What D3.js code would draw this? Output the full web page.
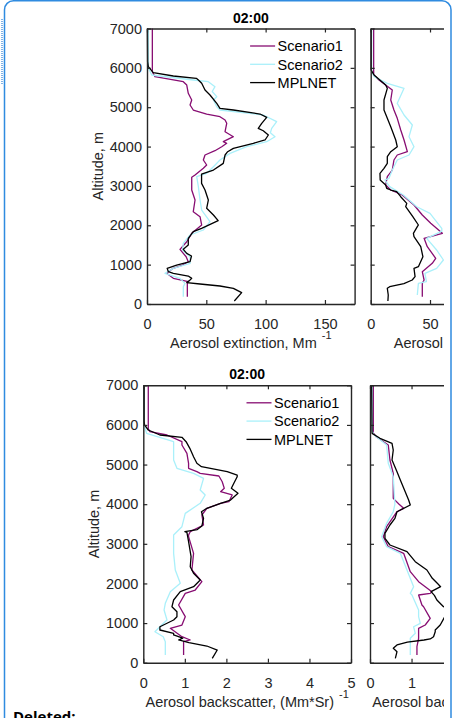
<!DOCTYPE html>
<html>
<head>
<meta charset="utf-8">
<script src="https://cdn.jsdelivr.net/npm/d3@7"></script>
<style>
body { margin: 0; background: #fff; }
svg { display: block; font-family: "Liberation Sans", Arial, sans-serif; }
</style>
</head>
<body>
<svg width="454" height="718"></svg>
<script>
// profiles as [altitude m, value]
// extinction, Mm^-1 (left panel)
const extS1_L = [[185,34],[525,34],[567,34.8],[652,22.2],[780,16.6],[906,22],[990,30],[1075,34.8],[1200,33],[1389,27.8],[1583,33.5],[1796,37.7],[2007,46.1],[2218,44.7],[2345,39],[2642,40.5],[2896,37.7],[3219,37.7],[3277,40.5],[3448,47.5],[3532,50.3],[3659,47.5],[3786,48.9],[3895,57.3],[3997,63],[4083,67.2],[4124,64.3],[4251,72.8],[4378,65.8],[4591,67.2],[4675,65.8],[4759,61.5],[4827,50.3],[4929,39],[5056,36.3],[5183,37.7],[5353,34.8],[5564,33.5],[5648,30.6],[5775,6.7],[5902,4.5],[7000,4.5]];
const extS2_L = [[185,30.6],[440,30.6],[525,32],[652,27.8],[780,15.2],[906,22.2],[1034,36.3],[1202,36.3],[1372,30],[1542,30.6],[1753,36.3],[1880,47.5],[2091,53.1],[2388,46.1],[2642,44.7],[2981,43.3],[3234,41.9],[3320,50.3],[3489,56],[3659,61.5],[3827,70],[3997,84],[4124,100.9],[4251,107.9],[4350,104],[4464,105.1],[4632,109.3],[4802,98],[4929,61.5],[5013,58.8],[5183,56],[5268,58.8],[5400,55],[5522,57.3],[5648,51.7],[5691,39],[5818,4],[6000,1.1],[7000,1.1]];
const extM_L = [[76,73.6],[288,79.8],[398,72.8],[457,61.5],[508,44.7],[545,33.5],[600,36],[652,37.7],[711,34.8],[780,22.2],[820,18],[906,17],[990,25],[1075,36.3],[1220,37.5],[1287,33.5],[1389,30.6],[1499,34.8],[1668,34.8],[1837,39],[1923,46],[2117,60],[2261,56],[2431,50.3],[2642,51.7],[2896,48.9],[3066,46],[3302,46],[3404,56],[3574,64.3],[3786,65.8],[3870,68],[3955,72.8],[4083,89.6],[4167,99.5],[4294,102.3],[4403,98],[4464,93.8],[4591,96.7],[4743,100.9],[4827,95.3],[4929,72.8],[4972,61.5],[5099,58.8],[5310,53.1],[5437,48.9],[5607,46.1],[5691,43.3],[5733,41.6],[5793,22.2],[5877,5.3],[6030,1.1],[6157,0.5],[7000,0.3]];
// extinction (right panel)
const extS1_R = [[185,43.5],[525,43.5],[610,45],[821,43.5],[1034,51.9],[1161,54.8],[1456,47.7],[1668,45],[1796,60.4],[2050,50.6],[2261,43.5],[2515,36.5],[2769,26.6],[2896,16.9],[3023,12.6],[3234,14],[3404,18.2],[3659,19.6],[3786,22.4],[3870,30.9],[4167,28.1],[4421,25.3],[4718,22.4],[4929,19.6],[5183,16.9],[5437,18.2],[5691,7],[5775,4.2],[5818,2.5],[7000,2.5]];
const extS2_R = [[229,39.3],[525,40.2],[567,47],[780,45.7],[906,55.6],[1118,61.3],[1372,55.6],[1668,47.2],[1850,60],[1923,59.9],[2303,50],[2472,38.8],[2769,27.5],[2981,16],[3150,12],[3193,15.4],[3404,18.2],[3659,22.4],[3786,32.3],[3997,36.5],[4251,32.3],[4548,35.1],[4802,28.1],[5099,22.4],[5480,28.1],[5607,14],[5775,3],[5900,0.8],[7000,0.8]];
const extM_R = [[76,14.5],[229,14.8],[398,14],[440,16],[520,28],[610,35],[694,37.4],[906,36.5],[948,40.2],[1202,44],[1456,42.2],[1710,36.5],[1796,36],[1964,39.3],[2007,40.2],[2218,35.5],[2472,29.5],[2558,30.4],[2726,25.3],[2854,21.9],[2896,16.9],[2939,13.5],[3023,12.6],[3150,8],[3320,7.8],[3448,11.2],[3574,14],[3743,14],[3870,16.9],[3997,22.4],[4167,21.1],[4505,16.9],[4929,11.2],[5183,11.2],[5480,14],[5564,12.6],[5818,2.8],[5950,0.3],[7000,0.3]];
// backscatter, (Mm*Sr)^-1 (left panel)
const bscS1_L = [[194,0.97],[530,0.97],[573,1.13],[656,0.93],[867,0.65],[951,0.93],[1161,1.01],[1455,0.85],[1750,1.01],[1834,1.25],[2044,1.41],[2339,1.17],[2760,1.21],[3180,1.09],[3222,1.09],[3306,1.13],[3475,1.45],[3727,1.41],[3896,1.53],[4022,1.86],[4063,2.06],[4232,2.14],[4315,1.86],[4400,1.95],[4567,1.9],[4711,1.82],[4779,1.37],[4820,1.29],[4905,1.09],[5031,1.09],[5284,1.05],[5493,0.93],[5577,0.93],[5746,0.57],[5830,0.16],[5900,0.12],[7000,0.12]];
const bscS2_L = [[194,0.53],[530,0.53],[656,0.48],[782,0.28],[908,0.4],[1077,0.57],[1330,0.5],[1499,0.53],[1792,0.65],[2003,0.89],[2339,0.77],[2760,0.73],[3222,0.73],[3432,0.93],[3769,1.01],[4022,1.37],[4232,1.49],[4358,1.37],[4653,1.45],[4779,1.21],[4905,0.81],[5115,0.73],[5577,0.73],[5788,0.08],[6000,0.02],[7000,0.02]];
const bscM_L = [[111,1.66],[320,1.78],[421,1.53],[505,1.1],[573,0.85],[620,0.95],[700,0.73],[742,0.73],[825,0.4],[908,0.4],[1077,0.73],[1161,0.81],[1287,0.81],[1413,0.69],[1582,0.73],[1792,0.89],[1918,1.21],[2044,1.33],[2087,1.37],[2256,1.21],[2422,1.13],[2676,1.15],[3053,1.09],[3290,1.05],[3310,1.0],[3360,1.3],[3449,1.41],[3643,1.45],[3810,1.4],[3896,1.53],[4022,1.86],[4105,2.1],[4274,2.28],[4401,2.12],[4527,2.18],[4693,2.26],[4736,2.26],[4820,2.02],[4946,1.4],[5031,1.29],[5198,1.21],[5410,1.12],[5577,1.03],[5688,0.93],[5746,0.4],[5872,0.12],[5999,0.03],[6100,0.02],[7000,0.02]];
// backscatter (right panel)
const bscS1_R = [[194,1.13],[404,1.13],[615,1.17],[867,1.17],[951,1.33],[1120,1.45],[1413,1.29],[1456,1.25],[1708,1.17],[1750,1.45],[1792,1.49],[2044,1.17],[2297,0.97],[2760,0.81],[2927,0.44],[3180,0.32],[3432,0.4],[3810,0.65],[3896,0.81],[4000,0.7],[4147,0.56],[4779,0.56],[5115,0.48],[5493,0.44],[5700,0.15],[5800,0.08],[7000,0.08]];
const bscS2_R = [[194,0.97],[615,0.97],[742,1.09],[908,1.05],[994,1.21],[1161,1.17],[1330,1.17],[1708,1.01],[1750,0.97],[1918,1.05],[2339,0.89],[2760,0.73],[2927,0.4],[3180,0.28],[3517,0.4],[3810,0.56],[4000,0.6],[4693,0.56],[5031,0.44],[5493,0.4],[5746,0.1],[5850,0.05],[7000,0.05]];
const bscM_R = [[111,0.61],[278,0.65],[363,0.56],[447,0.65],[520,0.9],[573,1.3],[600,1.45],[656,1.53],[782,1.57],[825,1.57],[951,1.69],[1161,1.8],[1250,2.0],[1330,1.95],[1413,1.77],[1582,1.61],[1700,1.55],[1792,1.47],[1918,1.7],[2003,1.62],[2129,1.5],[2339,1.37],[2549,1.09],[2801,0.89],[2970,0.48],[3138,0.36],[3265,0.36],[3475,0.48],[3643,0.6],[3810,0.65],[3979,0.97],[4105,0.93],[4610,0.73],[4820,0.65],[5115,0.53],[5367,0.56],[5536,0.53],[5662,0.24],[5788,0.05],[7000,0.04]];

const altTicks = [0,1000,2000,3000,4000,5000,6000,7000];
const extTicks = [0,50,100,150];
const bscTicks = [0,1,2,3,4,5];
const seriesNames = ["Scenario1","Scenario2","MPLNET"];
const seriesColors = ["#870d72","#aaf0fa","#000000"];
const timeLabel = "02:00";

var svg = d3.select("svg");

// page frame (comment box)
svg.append("rect")
    .attr("x", 4.5).attr("y", 0.75)
    .attr("width", 446.5).attr("height", 760)
    .attr("rx", 9)
    .attr("fill", "none")
    .attr("stroke", "#2f8be0")
    .attr("stroke-width", 1.5);
svg.append("line")
    .attr("x1", 2).attr("x2", 2).attr("y1", 19).attr("y2", 84)
    .attr("stroke", "#7fb2e6").attr("stroke-width", 2)
    .attr("stroke-dasharray", "1,1");
svg.append("text")
    .attr("x", 13).attr("y", 722)
    .style("font-family", "'Open Sans', sans-serif")
    .style("font-weight", "bold").style("font-size", "15px")
    .text("Deleted:");

svg.append("defs").append("clipPath").attr("id", "clipR")
    .append("rect").attr("x", 356).attr("y", 0).attr("width", 88).attr("height", 718);

function drawPanel(p) {
    var x = d3.scaleLinear().domain(p.xDomain).range([p.left, p.left + p.width]);
    var y = d3.scaleLinear().domain([0, 7000]).range([p.top + p.height, p.top]);
    var g = svg.append("g");
    if (p.clip) g.attr("clip-path", "url(#" + p.clip + ")");

    var line = d3.line().x(d => x(d[1])).y(d => y(d[0]));
    p.series.forEach(function(s, i) {
        g.append("path").datum(s)
            .attr("d", line)
            .attr("fill", "none")
            .attr("stroke", seriesColors[i])
            .attr("stroke-width", 1.3)
            .attr("stroke-linejoin", "round");
    });

    var axisColor = "#262626";
    var fs = "14.5px";

    var xb = g.append("g").attr("transform", "translate(0," + (p.top + p.height) + ")")
        .call(d3.axisBottom(x).tickValues(p.xTicks).tickFormat(d3.format("d"))
            .tickSizeInner(-4).tickSizeOuter(0).tickPadding(15));
    var xt = g.append("g").attr("transform", "translate(0," + p.top + ")")
        .call(d3.axisTop(x).tickValues(p.xTicks).tickSizeInner(-4).tickSizeOuter(0).tickFormat(""));
    var yl = g.append("g").attr("transform", "translate(" + p.left + ",0)")
        .call(d3.axisLeft(y).tickValues(altTicks).tickSizeInner(-4).tickSizeOuter(0).tickPadding(5)
            .tickFormat(p.yLabels ? d3.format("d") : ""));
    var yr = g.append("g").attr("transform", "translate(" + (p.left + p.width) + ",0)")
        .call(d3.axisRight(y).tickValues(altTicks).tickSizeInner(-4).tickSizeOuter(0).tickFormat(""));

    [xb, xt, yl, yr].forEach(function(a) {
        a.select(".domain").attr("stroke", axisColor).attr("stroke-width", 1.4);
        a.selectAll(".tick line").attr("stroke", axisColor).attr("stroke-width", 1.2);
        a.selectAll("text").attr("fill", axisColor).style("font-size", fs)
            .style("font-family", "'Liberation Sans', Arial, sans-serif");
    });

    // x label, then the superscript as its own text
    var ly0 = p.top + p.height + 44;
    var lab = g.append("text")
        .attr("y", ly0)
        .attr("fill", axisColor)
        .style("font-size", fs)
        .text(p.xLabel);
    var sup = g.append("text")
        .attr("y", ly0 - 9)
        .attr("fill", axisColor)
        .style("font-size", "11px")
        .text("-1");
    var w1 = lab.node().getComputedTextLength();
    var w2 = sup.node().getComputedTextLength();
    var x0 = p.left + p.width / 2 - (w1 + 5 + w2) / 2;
    lab.attr("x", x0);
    sup.attr("x", x0 + w1 + 5);

    if (p.yLabels) {
        g.append("text")
            .attr("transform", "translate(" + (p.left - 44) + "," + (p.top + p.height / 2) + ") rotate(-90)")
            .attr("text-anchor", "middle")
            .attr("fill", axisColor)
            .style("font-size", fs)
            .text("Altitude, m");
        g.append("text")
            .attr("x", p.left + p.width / 2)
            .attr("y", p.top - 6)
            .attr("text-anchor", "middle")
            .attr("fill", "#000")
            .style("font-size", "14px").style("font-weight", "bold")
            .text(timeLabel);
    }

    if (p.legend) {
        var lx = p.left + p.width - 104.5;
        seriesNames.forEach(function(name, i) {
            var ly = p.top + 17.5 + i * 18.3;
            g.append("line")
                .attr("x1", lx).attr("x2", lx + 25)
                .attr("y1", ly).attr("y2", ly)
                .attr("stroke", seriesColors[i]).attr("stroke-width", 1.3);
            g.append("text")
                .attr("x", lx + 27.5).attr("y", ly)
                .attr("dy", "0.36em")
                .attr("fill", "#000")
                .style("font-size", "14.5px")
                .text(name);
        });
    }
}

drawPanel({ left: 147, top: 28.5, width: 207.6, height: 275.5, xDomain: [0, 175], xTicks: extTicks,
    series: [extS1_L, extS2_L, extM_L], yLabels: true, legend: true, xLabel: "Aerosol extinction, Mm" });
drawPanel({ left: 370.7, top: 28.5, width: 207.6, height: 275.5, xDomain: [0, 175], xTicks: extTicks,
    series: [extS1_R, extS2_R, extM_R], yLabels: false, legend: false, clip: "clipR", xLabel: "Aerosol extinction, Mm" });
drawPanel({ left: 143.3, top: 385.3, width: 207.7, height: 277.4, xDomain: [0, 5], xTicks: bscTicks,
    series: [bscS1_L, bscS2_L, bscM_L], yLabels: true, legend: true, xLabel: "Aerosol backscatter, (Mm*Sr)" });
drawPanel({ left: 370, top: 385.3, width: 207.7, height: 277.4, xDomain: [0, 5], xTicks: bscTicks,
    series: [bscS1_R, bscS2_R, bscM_R], yLabels: false, legend: false, clip: "clipR", xLabel: "Aerosol backscatter, (Mm*Sr)" });
</script>
</body>
</html>
